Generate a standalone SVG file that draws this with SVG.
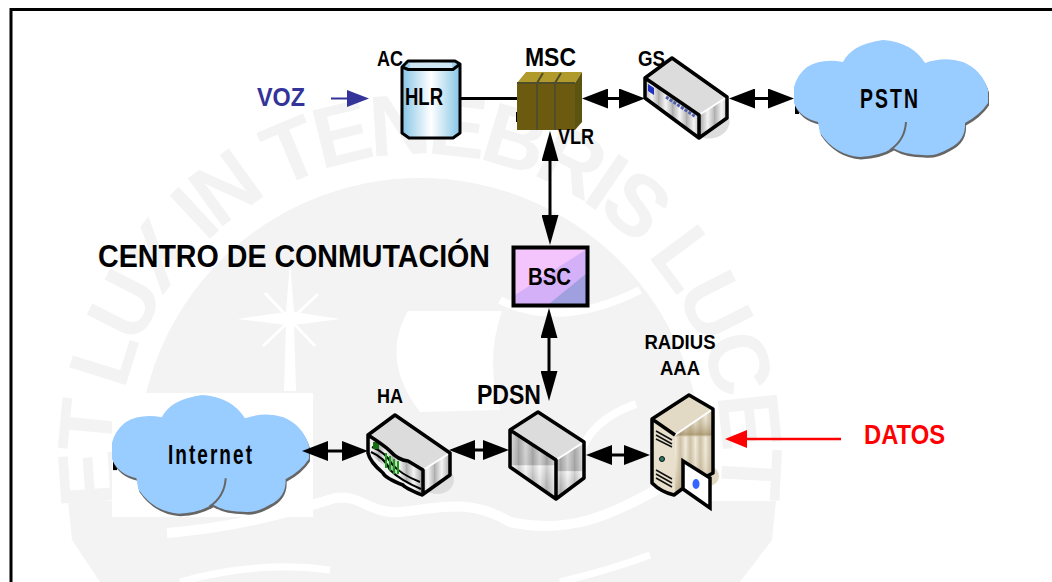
<svg xmlns="http://www.w3.org/2000/svg" width="1052" height="582" viewBox="0 0 1052 582">
<style>
text{font-family:"Liberation Sans",Arial,sans-serif;font-weight:bold;fill:#000}
.wm{fill:#f3f3f3}
.wt{fill:#f3f3f3;font-size:86px;font-weight:bold}
.ol{stroke:#000;stroke-width:3.5;stroke-linejoin:round;fill:none}
.top{fill:#dcdcdc}
.cn{fill:none;stroke:#000;stroke-width:3}
.cloud{fill:#99ccff}
.cs{fill:#666}
.ct{font-size:28px;letter-spacing:3px}
</style>
<defs>
<marker id="hH" viewBox="0 0 26 20" refX="18" refY="10" markerWidth="26" markerHeight="20" markerUnits="userSpaceOnUse" orient="auto-start-reverse"><path d="M0 0L26 10L0 20Z" fill="#000"/></marker>
<marker id="hV" viewBox="0 0 30 17" refX="22" refY="8.5" markerWidth="30" markerHeight="17" markerUnits="userSpaceOnUse" orient="auto-start-reverse"><path d="M0 0L30 8.5L0 17Z" fill="#000"/></marker>
<marker id="hB" viewBox="0 0 22 17" refX="14" refY="8.5" markerWidth="22" markerHeight="17" markerUnits="userSpaceOnUse" orient="auto"><path d="M0 0L22 8.5L0 17Z" fill="#333399"/></marker>
<marker id="hR" viewBox="0 0 22 18" refX="14" refY="9" markerWidth="22" markerHeight="18" markerUnits="userSpaceOnUse" orient="auto"><path d="M0 0L22 9L0 18Z" fill="#ff0000"/></marker>
<linearGradient id="cyl"><stop offset="0" stop-color="#86c6e6"/><stop offset=".5" stop-color="#fff"/><stop offset="1" stop-color="#86c6e6"/></linearGradient>
<linearGradient id="st" gradientUnits="userSpaceOnUse" x1="0" y1="0" x2="14" y2="0" spreadMethod="repeat"><stop offset="0" stop-color="#aaa"/><stop offset=".55" stop-color="#f4f4f4"/><stop offset="1" stop-color="#bbb"/></linearGradient>
<linearGradient id="shade" x1="0" y1="0" x2="0" y2="1"><stop offset="0" stop-color="#999" stop-opacity=".3"/><stop offset=".5" stop-color="#888" stop-opacity=".35"/><stop offset=".52" stop-color="#fff" stop-opacity=".4"/><stop offset="1" stop-color="#888" stop-opacity=".25"/></linearGradient>
<linearGradient id="tan" gradientUnits="userSpaceOnUse" x1="0" y1="0" x2="10" y2="0" spreadMethod="repeat"><stop offset="0" stop-color="#c4b594"/><stop offset=".55" stop-color="#efe8d6"/><stop offset="1" stop-color="#c8ba9a"/></linearGradient>
<linearGradient id="tanS" x1="0" y1="0" x2="0" y2="1"><stop offset="0" stop-color="#fff" stop-opacity=".1"/><stop offset=".3" stop-color="#a08c60" stop-opacity=".75"/><stop offset=".34" stop-color="#fff" stop-opacity=".1"/><stop offset="1" stop-color="#a08c60" stop-opacity=".5"/></linearGradient>
<path id="cl" d="M794 87Q797 75 807 67Q822 58 843 62Q852 44 883 40Q912 42 925 63Q945 56 963 62Q982 70 988 90L988 103Q980 115 965 123Q966 140 950 148Q935 157 923 155Q905 155 893 148Q880 156 860 157Q835 155 820 133L818 122Q800 118 794 103Z"/>
<g id="cloudShape">
<path d="M795 105h4v9h-4z" fill="#000"/>
<use href="#cl" class="cs" transform="translate(1 2.5)"/>
<use href="#cl" class="cloud"/>
<path d="M906 122Q905 140 890 150" fill="none" stroke="#666" stroke-width="2"/>
</g>
</defs>
<rect width="1052" height="582" fill="#fff"/>
<g id="watermark">
<circle cx="420" cy="460" r="282" class="wm"/>
<path class="wm" d="M68 501H776L772 540L740 582H100L72 540Z"/>
<path fill="#fff" d="M408 311H502Q485 360 500 410L420 412Q380 360 408 311Z"/>
<path fill="#fff" d="M290 262L294 312L340 319L294 325L296 391H284L286 325L237 319L286 312Z"/>
<path fill="none" stroke="#fff" stroke-width="3" d="M263 346L318 294M265 293L315 346"/>
<path fill="none" stroke="#fff" stroke-width="10" d="M167 533C240 527 290 512 335 498C360 494 370 514 400 512C440 508 470 498 510 522C570 535 610 515 660 488"/>
<path fill="none" stroke="#fff" stroke-width="8" d="M500 300Q560 330 640 290M636 404Q590 420 580 455"/>
<path fill="none" stroke="#fff" stroke-width="7" d="M180 582Q260 560 330 570M560 582Q610 570 650 555"/>
<path id="ring" fill="none" d="M122 505A302 302 0 1 1 718 505"/>
<text class="wt"><textPath href="#ring" textLength="1040" lengthAdjust="spacing">ET LUX IN TENEBRIS LUCET</textPath></text>
</g>
<path id="frame" d="M11 582V9.5H1052" fill="none" stroke="#000" stroke-width="3"/>

<g id="node-pstn">
<use href="#cloudShape"/>
<text class="ct" x="860" y="108" textLength="60" lengthAdjust="spacingAndGlyphs">PSTN</text>
</g>

<g id="node-internet">
<rect x="112" y="393" width="201" height="124" fill="#fff"/>
<use href="#cloudShape" transform="translate(-693.900 354.400) scale(1.015)"/>
<text class="ct" x="168" y="464" textLength="86" lengthAdjust="spacingAndGlyphs">Internet</text>
</g>

<g id="connectors">
<path class="cn" d="M461 98.500H518"/>
<path class="cn" marker-start="url(#hH)" marker-end="url(#hH)" d="M590 98.500H637"/>
<path class="cn" marker-start="url(#hH)" marker-end="url(#hH)" d="M737 98.500H786"/>
<path class="cn" marker-start="url(#hV)" marker-end="url(#hV)" d="M550 139V237"/>
<path class="cn" marker-start="url(#hV)" marker-end="url(#hV)" d="M549 316V393"/>
<path class="cn" marker-start="url(#hH)" marker-end="url(#hH)" d="M310 451H360"/>
<path class="cn" marker-start="url(#hH)" marker-end="url(#hH)" d="M457 450H501"/>
<path class="cn" marker-start="url(#hH)" marker-end="url(#hH)" d="M594 455H642"/>
<path fill="none" stroke="#333399" stroke-width="2" marker-end="url(#hB)" d="M331 98.500H361"/>
<path fill="none" stroke="#ff0000" stroke-width="2.500" marker-end="url(#hR)" d="M841 439H733"/>
</g>

<g id="label-voz"><text x="257" y="106" font-size="26" textLength="48" lengthAdjust="spacingAndGlyphs" style="fill:#333399">VOZ</text></g>

<g id="node-hlr">
<path d="M402 67L408 61H455L460 64V133L453 138H409L402 133Z" fill="url(#cyl)" stroke="#000" stroke-width="3" stroke-linejoin="round"/>
<path d="M410 63H452V68H410Z" fill="#cfe6f4"/>
<path d="M402 67L408 69.500H453L460 64" fill="none" stroke="#000" stroke-width="3"/>
<text x="405" y="105" font-size="23" textLength="38" lengthAdjust="spacingAndGlyphs">HLR</text>
<text x="377" y="66" font-size="22" textLength="26" lengthAdjust="spacingAndGlyphs">AC</text>
</g>

<g id="node-msc">
<path d="M516 112h3v10h-3z" fill="#000"/>
<path d="M517 83L526 72H582L575 83Z" fill="#b09a2c"/>
<path d="M575 83L582 72V122L575 130Z" fill="#5a5410"/>
<rect x="517" y="83" width="58" height="47" fill="#6b5a10"/>
<path d="M537 83V130M555 83V130M537 83L543 73M555 83L561 73" stroke="#4f4d2a" stroke-width="2" fill="none"/>
<path d="M517 83H575" stroke="#4f4d2a" stroke-width="2"/>
<text x="525" y="66" font-size="26" textLength="51" lengthAdjust="spacingAndGlyphs">MSC</text>
<text x="558" y="144" font-size="22" textLength="36" lengthAdjust="spacingAndGlyphs">VLR</text>
</g>

<g id="node-gs">
<ellipse cx="712" cy="124" rx="18" ry="14" fill="#ddd" transform="rotate(-20 712 124)"/>
<path d="M645 78L699 115V138L645 98Z" fill="url(#st)"/>
<path d="M699 115L727 97V118L699 138Z" fill="url(#st)"/>
<path d="M672 58L727 97L699 115L645 78Z" class="top"/>
<path d="M699 115L727 97" stroke="#fff" stroke-width="2"/>
<path d="M648 84l6 4v7l-6-4z" fill="#2030c0"/>
<path d="M666 97L696 117" stroke="#5060b0" stroke-width="3" stroke-dasharray="3 1.500"/>
<path class="ol" d="M672 58L727 97V118L699 138L645 98V78ZM645 78L699 115V138"/>
<text x="638" y="66" font-size="22" textLength="27" lengthAdjust="spacingAndGlyphs">GS</text>
</g>

<g id="node-bsc">
<rect x="513.500" y="247.500" width="74" height="58" fill="#f4c4fc"/>
<path d="M515 295L587 249V305.500H515Z" fill="#d4b0f8"/>
<path d="M547 305.500L587 273V305.500Z" fill="#a0a0e0"/>
<rect x="513.500" y="247.500" width="74" height="58" fill="none" stroke="#000" stroke-width="4"/>
<text x="528" y="285" font-size="24" textLength="43" lengthAdjust="spacingAndGlyphs">BSC</text>
</g>

<g id="label-centro"><text x="98" y="267" font-size="32" textLength="392" lengthAdjust="spacingAndGlyphs">CENTRO DE CONMUTACIÓN</text></g>

<g id="node-ha">
<ellipse cx="437" cy="480" rx="17" ry="14" fill="#ddd"/>
<path d="M368 435L423 470V495L368 453Z" fill="url(#st)"/>
<path d="M423 470L450 453V475L422 495Z" fill="url(#st)"/>
<path d="M395 415L450 453L423 470L408 461Q398 460 390 451L368 435Z" class="top"/>
<path d="M423 470L450 453" stroke="#fff" stroke-width="2"/>
<path d="M372 447Q385 452 392 464Q400 474 420 482M371 452Q385 458 390 470Q400 480 421 489" fill="none" stroke="#000" stroke-width="2"/>
<path d="M373 442h6v7h-6z" fill="#107010"/>
<path d="M386 453V468M390 456V471M394 459V474M398 461V474" stroke="#10a010" stroke-width="2"/>
<path class="ol" d="M395 415L450 453V475L422 495Q405 488 403 485Q385 478 383 473Q370 462 368 453V435ZM368 435Q385 446 390 451Q398 460 408 461L423 470V495"/>
<text x="377" y="403" font-size="21" textLength="26" lengthAdjust="spacingAndGlyphs">HA</text>
</g>

<g id="node-pdsn">
<path d="M510 430L556 460V499L510 467Z" fill="url(#st)"/>
<path d="M510 430L556 460V499L510 467Z" fill="url(#shade)"/>
<path d="M556 460L584 442V478L556 499Z" fill="url(#st)"/>
<path d="M556 460L584 442V478L556 499Z" fill="url(#shade)"/>
<path d="M538 412L584 442L556 460L510 430Z" class="top"/>
<path d="M556 460L584 442" stroke="#fff" stroke-width="2"/>
<path class="ol" d="M538 412L584 442V478L556 499L510 467V430ZM510 430L556 460V499"/>
<text x="477" y="404" font-size="27" textLength="64" lengthAdjust="spacingAndGlyphs">PDSN</text>
</g>

<g id="node-radius">
<circle cx="709" cy="476" r="10" fill="#e0d8c0"/>
<path d="M652 419L675 435V495L652 483Z" fill="#e8e0cc"/>
<path d="M675 435L713 409V473L682 489L675 495Z" fill="url(#tan)"/>
<path d="M675 435L713 409V473L682 489L675 495Z" fill="url(#tanS)"/>
<path d="M689 395L713 409L675 435L652 419Z" fill="#e2dac4"/>
<path d="M675 435L713 409" stroke="#fff" stroke-width="2"/>
<path d="M656 431L672 440M656 435L672 444M656 439L672 447M656 470L672 479M656 474L672 483M656 478L672 487" stroke="#111" stroke-width="1.500"/>
<circle cx="662" cy="459" r="2.500" fill="#2a7a6a" stroke="#111"/>
<path class="ol" d="M689 395L713 409V473L682 489L674 495Q661 492 652 483V419ZM652 419L675 435"/>
<path d="M683 461L710 478L710 508L683 489Z" fill="#fff" stroke="#000" stroke-width="3.500"/>
<ellipse cx="696" cy="484" rx="3.500" ry="5" fill="#3366ff"/>
<text x="644.500" y="349" font-size="21" textLength="71" lengthAdjust="spacingAndGlyphs">RADIUS</text>
<text x="660" y="375" font-size="21" textLength="40" lengthAdjust="spacingAndGlyphs">AAA</text>
</g>

<g id="label-datos"><text x="864" y="444" font-size="27" textLength="81" lengthAdjust="spacingAndGlyphs" style="fill:#ff0000">DATOS</text></g>
</svg>
